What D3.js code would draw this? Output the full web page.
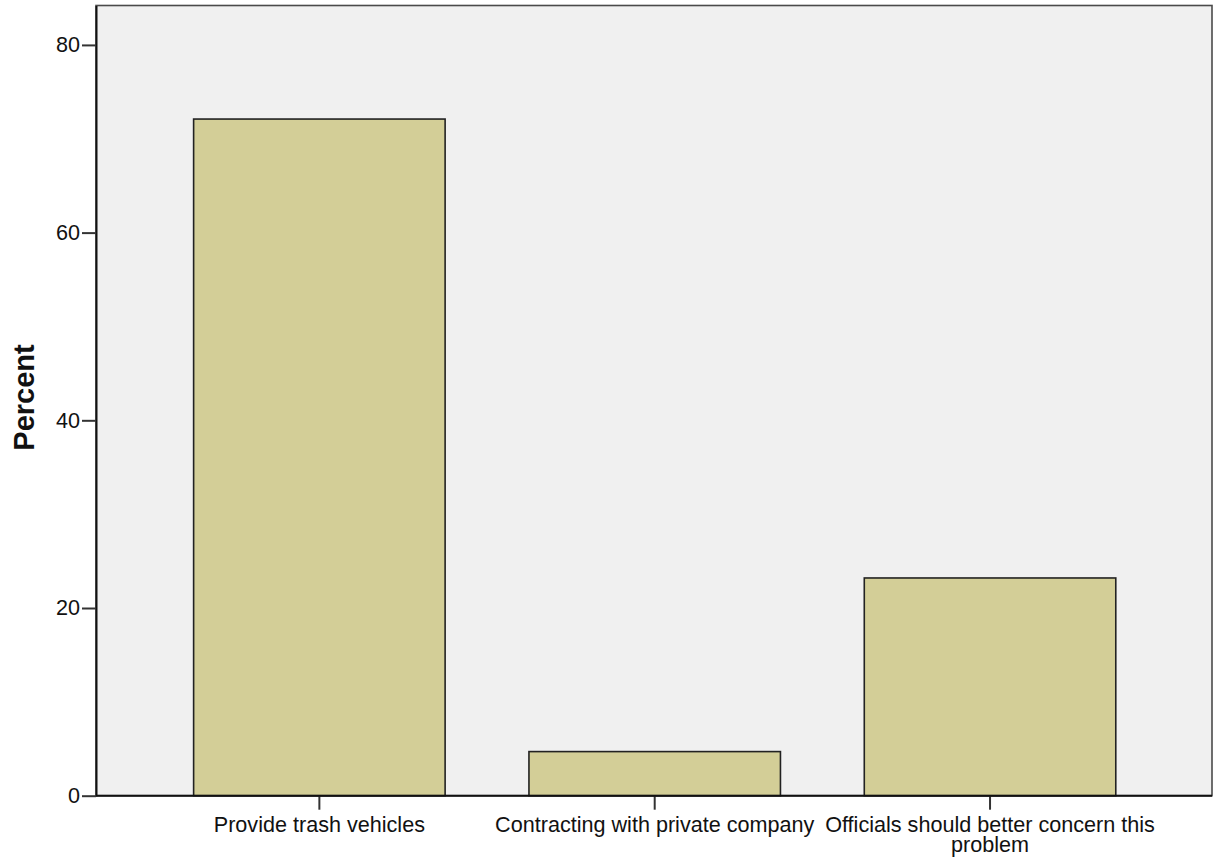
<!DOCTYPE html>
<html>
<head>
<meta charset="utf-8">
<script src="https://cdn.jsdelivr.net/npm/d3@7"></script>
<style>
  html, body { margin: 0; padding: 0; background: #ffffff; }
  svg { display: block; }
  text { font-family: "Liberation Sans", Arial, sans-serif; }
</style>
</head>
<body>
<svg id="chart" width="1217" height="860"></svg>
<script>
// ---- data ----
const categories = ["Provide trash vehicles", "Contracting with private company", "Officials should better concern this problem"];
const percentValues = [72.1, 4.7, 23.2];
const yTickValues = [0, 20, 40, 60, 80];
const yAxisTitle = "Percent";
const yMax = 84.2;

// ---- layout ----
const W = 1217, H = 860;
const plot = { left: 96, right: 1212, top: 5.5, bottom: 795.7 };
const FS = 21.6;

const svg = d3.select("#chart");

const x = d3.scaleBand()
  .domain(categories)
  .range([151.7, 1157.7])
  .paddingInner(0.25)
  .paddingOuter(0.125);

const y = d3.scaleLinear()
  .domain([0, yMax])
  .range([plot.bottom, plot.top]);

// plot background + frame
svg.append("rect")
  .attr("x", plot.left).attr("y", plot.top)
  .attr("width", plot.right - plot.left)
  .attr("height", plot.bottom - plot.top)
  .attr("fill", "#f0f0f0")
  .attr("stroke", "#4a4a4a")
  .attr("stroke-width", 1.6);

// bars
svg.append("g").selectAll("rect")
  .data(categories.map((c, i) => ({ c, v: percentValues[i] })))
  .join("rect")
  .attr("x", d => x(d.c))
  .attr("y", d => y(d.v))
  .attr("width", x.bandwidth())
  .attr("height", d => y(0) - y(d.v))
  .attr("fill", "#d3ce97")
  .attr("stroke", "#222")
  .attr("stroke-width", 1.6);

// y axis
const yAxis = d3.axisLeft(y).tickValues(yTickValues).tickSize(14).tickSizeOuter(0).tickPadding(2).tickFormat(d3.format("d"));
const gy = svg.append("g").attr("transform", `translate(${plot.left},0)`).call(yAxis);
gy.select(".domain").attr("stroke", "#111").attr("stroke-width", 2);
gy.selectAll(".tick line").attr("stroke", "#333").attr("stroke-width", 2);
gy.selectAll(".tick text")
  .attr("font-size", FS)
  .attr("fill", "#111")
  .attr("font-family", "Liberation Sans, Arial, sans-serif");

// x axis
const xAxis = d3.axisBottom(x).tickSize(14).tickPadding(4).tickSizeOuter(0);
const gx = svg.append("g").attr("transform", `translate(0,${plot.bottom})`).call(xAxis);
gx.select(".domain").remove();
svg.append("line")
  .attr("x1", plot.left).attr("x2", plot.right)
  .attr("y1", plot.bottom).attr("y2", plot.bottom)
  .attr("stroke", "#111").attr("stroke-width", 2);
gx.selectAll(".tick line").attr("stroke", "#333").attr("stroke-width", 2);
gx.selectAll(".tick text")
  .attr("font-size", FS)
  .attr("fill", "#111")
  .attr("font-family", "Liberation Sans, Arial, sans-serif")
  .attr("y", 36)
  .attr("dy", null);

// wrap long labels
const maxW = x.step() * 1.02;
const lineGap = 20.5;
gx.selectAll(".tick text").each(function(d) {
  const t = d3.select(this);
  const words = d.split(/\s+/);
  t.text(null);
  let line = [];
  let lineNo = 0;
  let tspan = t.append("tspan").attr("x", 0).attr("y", 36);
  for (const w of words) {
    line.push(w);
    tspan.text(line.join(" "));
    if (tspan.node().getComputedTextLength() > maxW && line.length > 1) {
      line.pop();
      tspan.text(line.join(" "));
      line = [w];
      lineNo++;
      tspan = t.append("tspan").attr("x", 0).attr("y", 36 + lineNo * lineGap).text(w);
    }
  }
});

// y axis title
svg.append("text")
  .attr("transform", `translate(33.5,397.5) rotate(-90)`)
  .attr("text-anchor", "middle")
  .attr("font-size", 29)
  .attr("font-weight", "bold")
  .attr("fill", "#111")
  .text(yAxisTitle);
</script>
</body>
</html>
